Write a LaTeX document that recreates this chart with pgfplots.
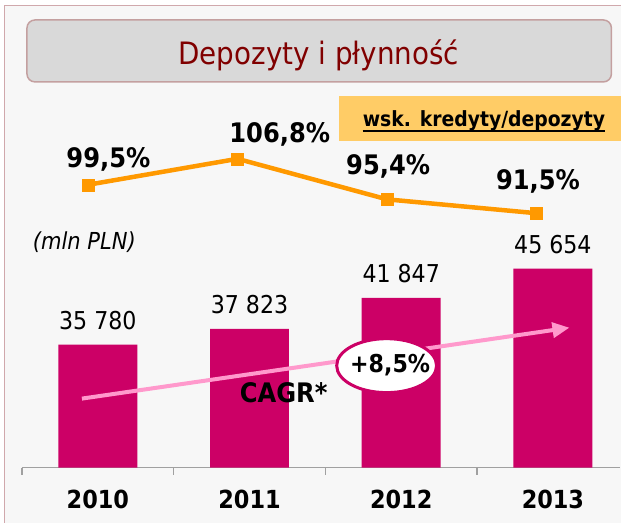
\documentclass[border=0pt]{standalone}
\usepackage{pgfplots}
\pgfplotsset{compat=1.18}
\usepackage{fontspec}
\setmainfont{DejaVu Sans Condensed}
\usetikzlibrary{arrows.meta,shapes.geometric}
\definecolor{barc}{HTML}{CC0066}
\definecolor{linec}{HTML}{FF9900}
\definecolor{boxo}{HTML}{FFCC66}
\definecolor{arrowc}{HTML}{FF99CC}
\definecolor{titlec}{HTML}{800000}
\definecolor{panel}{HTML}{F7F7F7}
\definecolor{framec}{HTML}{D0A8AC}
\definecolor{titlebox}{HTML}{D9D9D9}
\definecolor{titleborder}{HTML}{C4A0A0}
\definecolor{axisc}{HTML}{A0A0A0}

\pgfplotstableread{
x  dep
0  35780
1  37823
2  41847
3  45654
}\deposits

\pgfplotstableread{
x  ratio
0  99.5
1  106.8
2  95.4
3  91.5
}\ratio

\begin{document}
\begin{tikzpicture}
\begin{scope}[x=1bp,y=1bp]
\useasboundingbox (0,0) rectangle (621,523);
\fill[white] (0,0) rectangle (621,523);
\draw[framec, fill=panel, line width=1bp] (5,-5) rectangle (640,517);
\draw[titleborder, fill=titlebox, line width=1.5bp, rounded corners=8bp] (27,441) rectangle (612,503);
\node[text=titlec, font=\fontsize{31}{36}\selectfont, anchor=base] at (319,458) {Depozyty i płynność};
\fill[boxo] (339,382) rectangle (630,427);
\node[font=\fontsize{21}{25}\selectfont\bfseries, anchor=base, inner sep=0pt] (wsk) at (484.5,396) {wsk. kredyty/depozyty};
\draw[line width=1.6bp] ([yshift=-4bp]wsk.base west) -- ([yshift=-4bp]wsk.base east);
\end{scope}

\begin{axis}[
  at={(22bp,55bp)}, anchor=south west, scale only axis,
  width=599bp, height=200bp,
  xmin=-0.5, xmax=3.445, ymin=19800, ymax=45774,
  axis y line=none,
  axis x line*=bottom,
  x axis line style={draw=axisc, line width=1.2bp, -},
  xtick={0,1,2,3},
  xticklabels={2010,2011,2012,2013},
  major tick length=0pt,
  extra x ticks={-0.5,0.5,1.5,2.5},
  extra x tick labels={},
  extra x tick style={major tick length=7bp, tick style={draw=axisc, line width=1.2bp}},
  tick align=outside,
  xtick pos=bottom,
  xticklabel style={font=\fontsize{25}{30}\selectfont\bfseries, anchor=base, yshift=-41bp},
  clip=false,
  ybar, bar width=79bp,
  nodes near coords={\pgfmathprintnumber[assume math mode=true,1000 sep={\ }]{\pgfplotspointmeta}},
  every node near coord/.append style={font=\fontsize{24.7}{28}\selectfont, anchor=base, yshift=15.5bp, text=black},
]
\addplot[fill=barc, draw=none] table[x=x, y=dep] {\deposits};
\end{axis}

\begin{axis}[
  at={(22bp,55bp)}, anchor=south west, scale only axis,
  width=599bp, height=400bp,
  xmin=-0.441, xmax=3.56, ymin=20.0, ymax=132.36,
  hide axis, clip=false,
]
\addplot[linec, line width=4.5bp, mark=square*, mark size=6bp, mark options={fill=linec, draw=linec, line width=0.5bp}] table[x=x, y=ratio] {\ratio};
\end{axis}

\begin{scope}[x=1bp,y=1bp]
\begin{scope}[font=\fontsize{27}{32}\selectfont\bfseries]
\node[anchor=base] at (108.5,355) {99,5\%};
\node[anchor=base] at (280,380) {106,8\%};
\node[anchor=base] at (388.5,348) {95,4\%};
\node[anchor=base] at (538.5,333) {91,5\%};
\end{scope}
\node[anchor=base, font=\fontsize{23.5}{28}\selectfont\itshape] at (84.5,273) {(mln PLN)};
\draw[arrowc, line width=4bp, -{Triangle[length=17bp, width=15bp]}] (82,124) -- (570,195);
\node[anchor=base, font=\fontsize{27}{32}\selectfont\bfseries] at (284,120) {CAGR*};
\draw[barc, fill=white, line width=3bp] (387,157) ellipse [x radius=50, y radius=27];
\node[anchor=base, font=\fontsize{24.7}{30}\selectfont\bfseries] at (390.5,150) {+8,5\%};
\end{scope}
\end{tikzpicture}
\end{document}
